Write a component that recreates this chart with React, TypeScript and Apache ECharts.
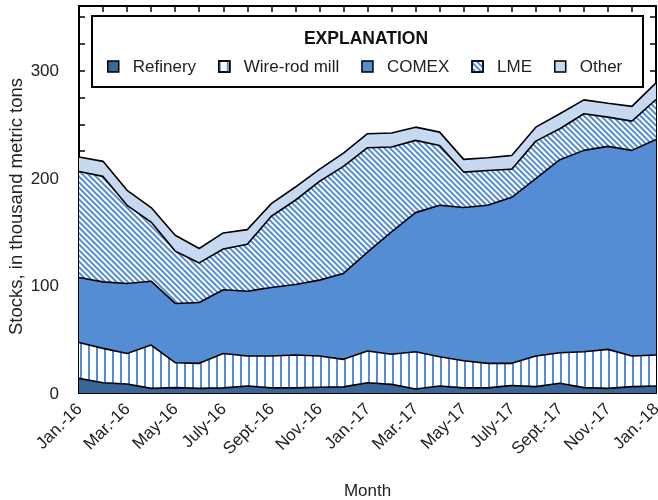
import React, { useEffect, useRef } from "react";
import * as echarts from "echarts";

const months = [
  "Jan.-16", "Feb.-16", "Mar.-16", "Apr.-16", "May-16", "June-16", "July-16", "Aug.-16", "Sept.-16", "Oct.-16", "Nov.-16", "Dec.-16",
  "Jan.-17", "Feb.-17", "Mar.-17", "Apr.-17", "May-17", "June-17", "July-17", "Aug.-17", "Sept.-17", "Oct.-17", "Nov.-17", "Dec.-17",
  "Jan.-18",
];

const refinery = [13.6, 9.6, 8.4, 4.3, 5.0, 4.3, 4.8, 6.5, 4.8, 4.8, 5.4, 5.7, 9.6, 8.0, 3.7, 6.5, 4.8, 4.8, 7.0, 5.9, 9.0, 5.0, 4.3, 5.9, 6.5];
const wireRod = [33.4, 31.9, 28.4, 40.3, 23.2, 23.3, 32.0, 27.9, 29.6, 30.5, 29.0, 25.6, 29.4, 28.0, 34.7, 27.2, 25.2, 22.8, 20.6, 28.5, 28.4, 33.4, 36.3, 28.5, 28.8];
const comex = [60.4, 61.9, 65.1, 59.4, 55.1, 56.6, 59.2, 60.3, 63.8, 65.7, 70.6, 79.9, 92.0, 113.8, 129.4, 140.9, 142.5, 147.0, 154.4, 165.0, 179.6, 187.3, 188.8, 191.3, 200.6];
const lme = [98.6, 98.1, 72.7, 55.0, 48.7, 36.8, 38.0, 43.7, 66.2, 78.3, 91.9, 99.6, 97.2, 79.0, 67.2, 55.7, 33.0, 32.4, 26.2, 34.9, 28.8, 34.1, 27.2, 27.2, 37.1];
const other = [13.5, 14.0, 13.9, 13.5, 14.7, 13.4, 14.9, 13.6, 11.8, 12.3, 11.1, 12.4, 13.0, 13.0, 12.3, 12.4, 11.8, 11.9, 12.8, 13.0, 14.0, 12.9, 13.0, 13.7, 15.5];

const yTickLabels = ["0", "100", "200", "300"];

const FONT = "'Liberation Sans', Arial, sans-serif";
const BLUE = "#548dd4";
const DARK = "#3b6699";
const LIGHT = "#c6d9f1";
const TXT = "#222";

export default function App() {
  const ref = useRef<HTMLDivElement>(null);
  useEffect(() => {
    const chart = echarts.init(ref.current!, undefined, { renderer: "svg" });

    const vertDecal = {
      symbol: "rect",
      symbolSize: 1,
      dashArrayX: [2, 6],
      dashArrayY: [1, 0],
      rotation: 0,
      color: BLUE,
      backgroundColor: "#ffffff",
    };
    const diagDecal = {
      symbol: "rect",
      symbolSize: 1,
      dashArrayX: [1, 0],
      dashArrayY: [2, 2],
      rotation: Math.PI / 4,
      color: BLUE,
      backgroundColor: "#ffffff",
    };

    const mk = (name: string, data: number[], fill: string, decal?: any) => ({
      name,
      type: "line",
      stack: "total",
      data,
      symbol: "none",
      smooth: false,
      lineStyle: { color: "#000", width: 1.6 },
      itemStyle: decal
        ? { color: fill, borderColor: "#000", borderWidth: 1.5, decal }
        : { color: fill, borderColor: "#000", borderWidth: 1.5 },
      areaStyle: { color: fill, opacity: 1 },
      emphasis: { disabled: true },
    });

    const yAxisBase = {
      type: "value",
      min: 0,
      max: 360,
      interval: 25,
      splitLine: { show: false },
      axisLine: { show: true, lineStyle: { color: "#000", width: 2 } },
      axisTick: { show: true, inside: true, length: 6, lineStyle: { color: "#000", width: 1.5 } },
    };

    chart.setOption({
      animation: false,
      textStyle: { fontFamily: FONT },
      grid: { left: 79, right: 2, top: 6, bottom: 107, containLabel: false, outerBoundsMode: "none" },
      aria: { enabled: false, decal: { show: false } },
      xAxis: [
        {
          type: "category",
          data: months,
          boundaryGap: false,
          name: "Month",
          nameLocation: "middle",
          nameGap: 89,
          nameMoveOverlap: false,
          nameTextStyle: { fontFamily: FONT, fontSize: 17, color: TXT },
          axisLine: { show: true, onZero: false, lineStyle: { color: "#000", width: 2 } },
          axisTick: { show: true, inside: true, length: 6, interval: 0, lineStyle: { color: "#000", width: 1.5 } },
          axisLabel: {
            interval: 1,
            rotate: 45,
            margin: 13,
            fontFamily: FONT,
            fontSize: 17,
            color: TXT,
          },
          splitLine: { show: false },
        },
        {
          type: "category",
          data: months,
          boundaryGap: false,
          position: "top",
          axisLine: { show: true, onZero: false, lineStyle: { color: "#000", width: 2 } },
          axisTick: { show: true, inside: true, length: 6, interval: 0, lineStyle: { color: "#000", width: 1.5 } },
          axisLabel: { show: false },
          splitLine: { show: false },
        },
      ],
      yAxis: [
        {
          ...yAxisBase,
          name: "Stocks, in thousand metric tons",
          nameLocation: "middle",
          nameGap: 54,
          nameMoveOverlap: false,
          nameTextStyle: { fontFamily: FONT, fontSize: 18.5, color: TXT, padding: [0, 14, 0, 0] },
          axisLabel: {
            fontFamily: FONT,
            fontSize: 17,
            color: TXT,
            margin: 20,
            formatter: (v: number) => (yTickLabels.includes(String(v)) ? String(v) : ""),
          },
        },
        {
          ...yAxisBase,
          position: "right",
          axisLabel: { show: false },
        },
      ],
      legend: {
        left: 107,
        top: 58,
        itemWidth: 11,
        itemHeight: 11,
        itemGap: 22,
        icon: "rect",
        padding: 0,
        itemStyle: { borderColor: "#000", borderWidth: 1.5 },
        textStyle: { fontFamily: FONT, fontSize: 17, color: TXT, padding: [0, 0, 0, 9] },
        data: ["Refinery", "Wire-rod mill", "COMEX", "LME", "Other"],
      },
      graphic: [
        {
          type: "rect",
          left: 91,
          top: 15,
          shape: { width: 551, height: 71 },
          style: { fill: "#fff", stroke: "#000", lineWidth: 2 },
          z: 1,
        },
        {
          type: "text",
          x: 366,
          y: 38,
          style: {
            text: "EXPLANATION",
            fontFamily: FONT,
            fontWeight: "bold",
            fontSize: 17.5,
            fill: "#111",
            align: "center",
            verticalAlign: "middle",
          },
          z: 2,
        },
      ],
      series: [
        mk("Refinery", refinery, DARK),
        mk("Wire-rod mill", wireRod, "#ffffff", vertDecal),
        mk("COMEX", comex, BLUE),
        mk("LME", lme, "#ffffff", diagDecal),
        mk("Other", other, LIGHT),
      ],
    });
    return () => chart.dispose();
  }, []);
  return (
    <div
      ref={ref}
      style={{ position: "fixed", left: 0, top: 0, width: 658, height: 500 }}
    />
  );
}
